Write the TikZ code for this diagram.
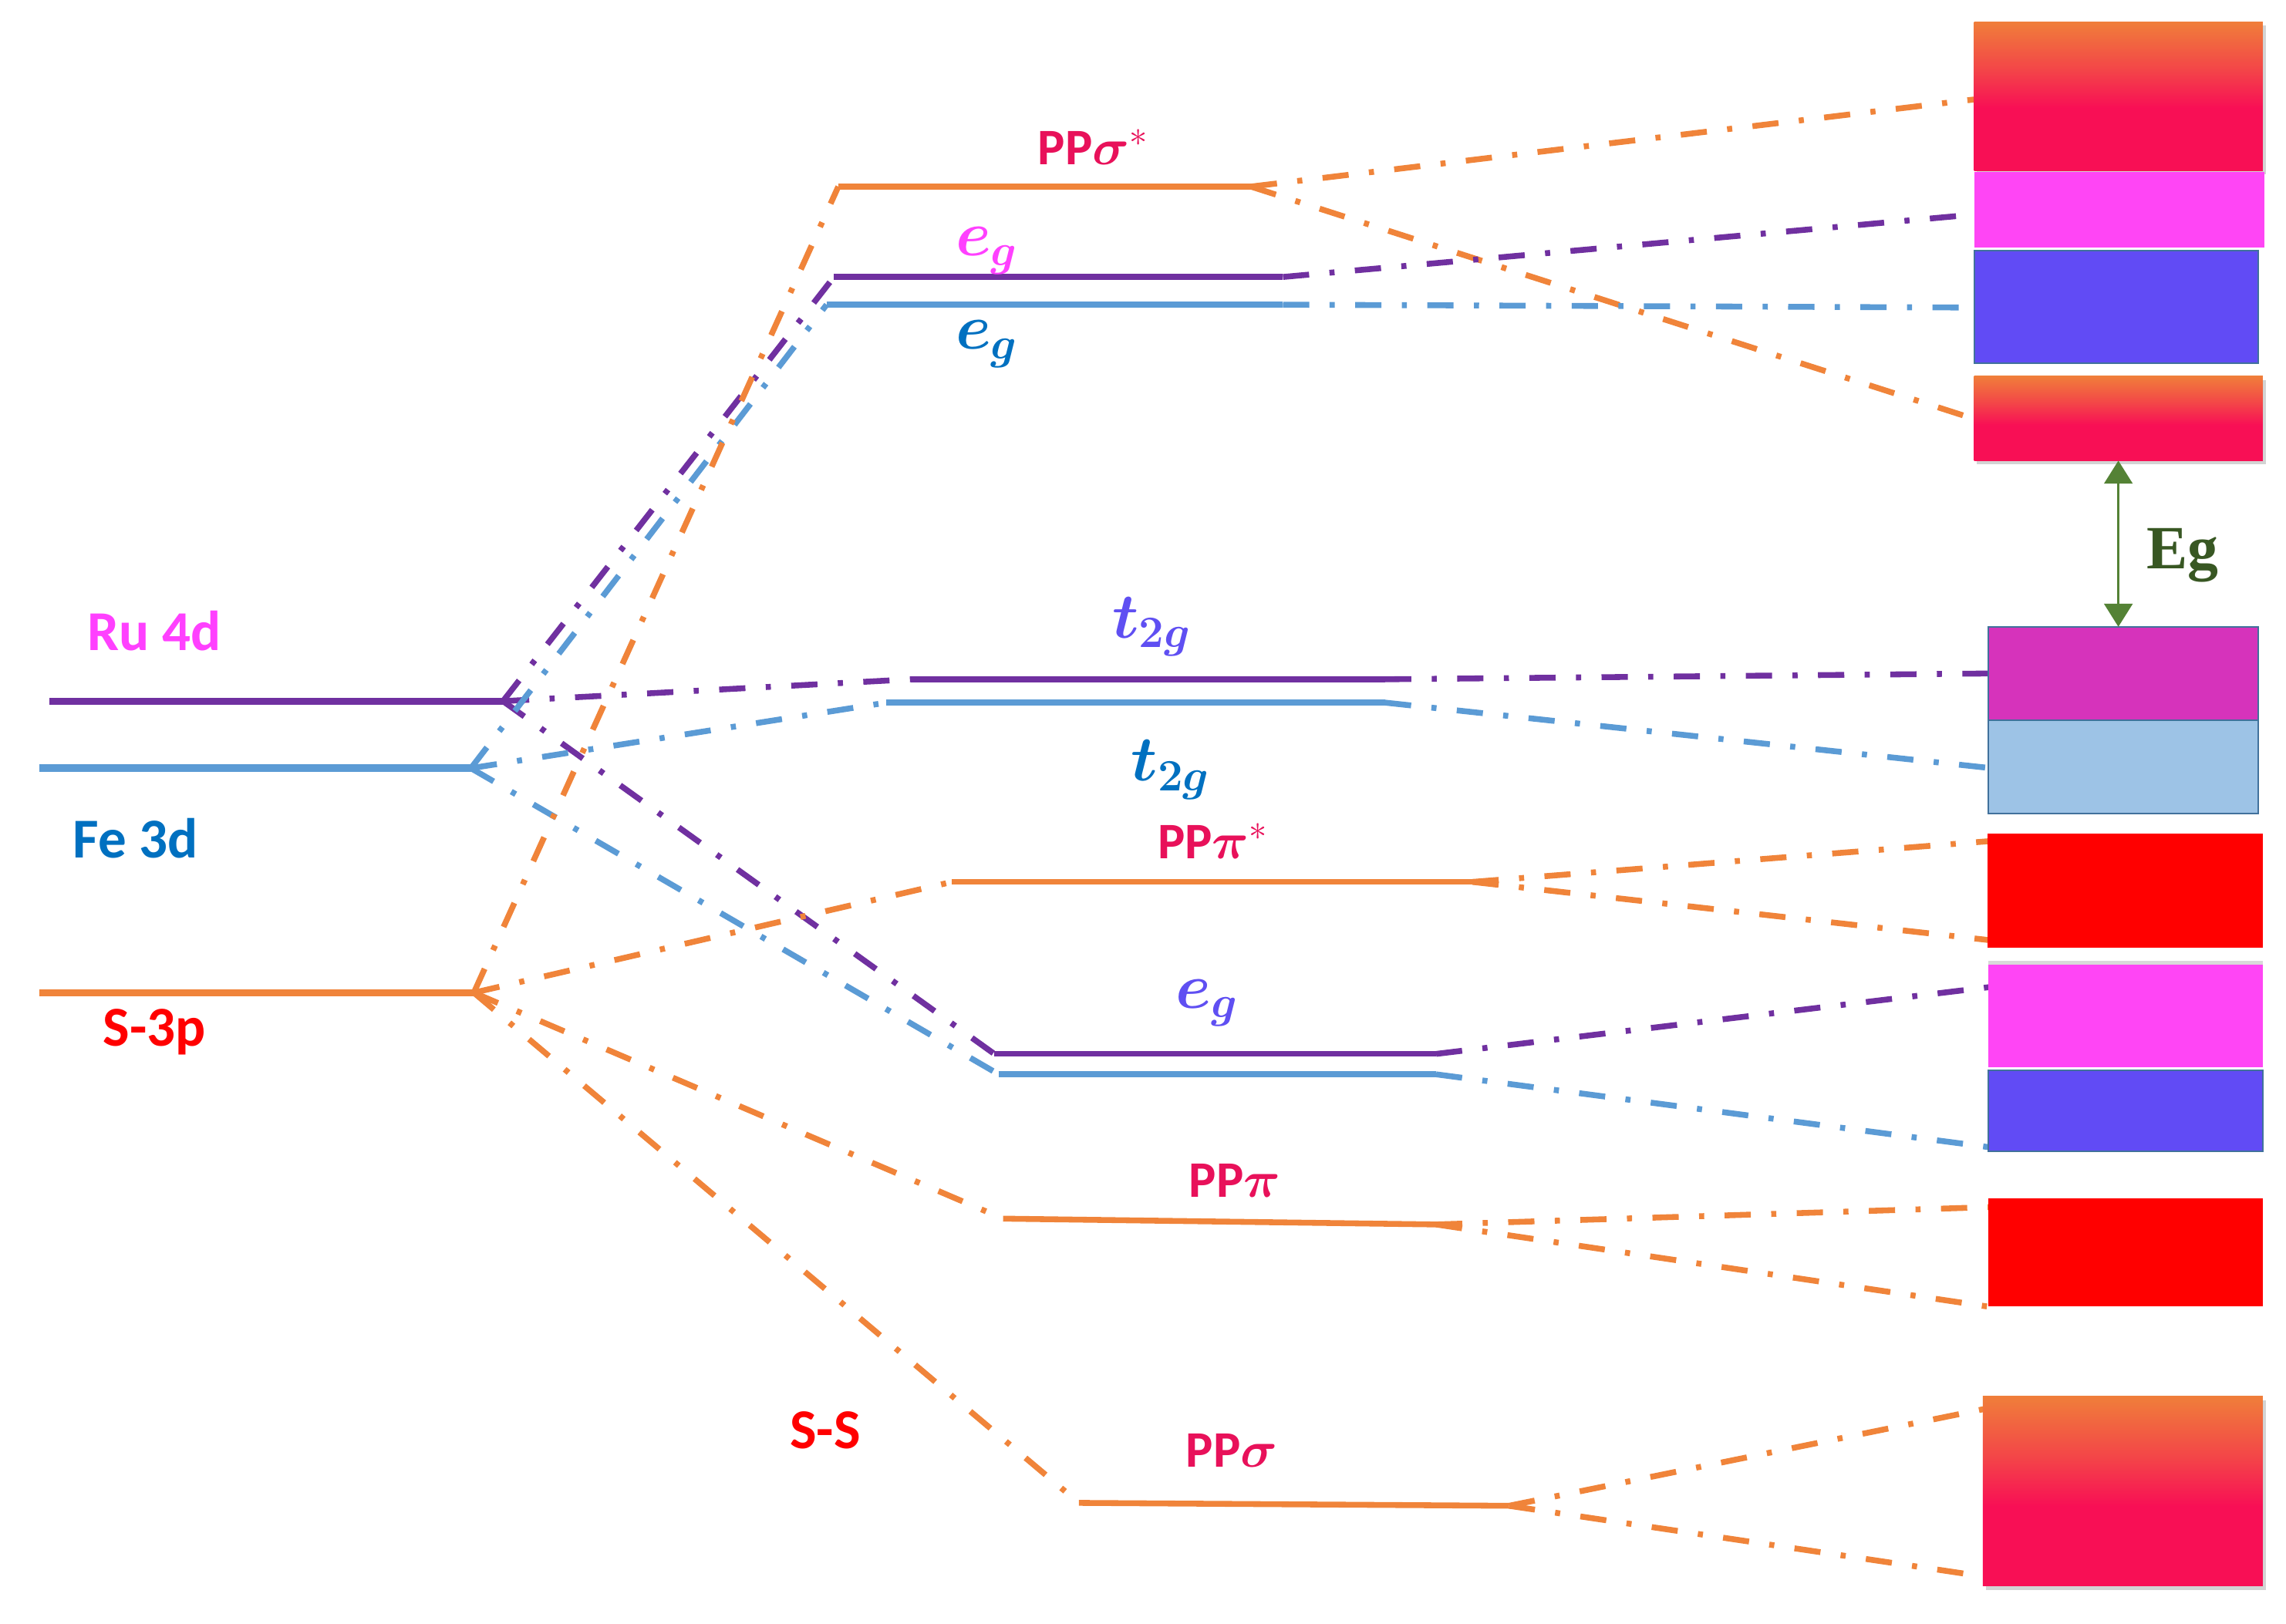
\RequirePackage{fix-cm}
\documentclass[tikz,border=0pt]{standalone}
\usepackage{fontspec}
\usepackage{bm}
\usetikzlibrary{arrows.meta,fit,shadows}
\newfontfamily\carl{Carlito}
\newfontfamily\lserif{Liberation Serif}
\definecolor{purp}{HTML}{7030A0}
\definecolor{lblue}{HTML}{5B9BD5}
\definecolor{orng}{HTML}{F0843A}
\definecolor{magl}{HTML}{FF40FF}
\definecolor{dblue}{HTML}{0070C0}
\definecolor{sred}{HTML}{FF0000}
\definecolor{crim}{HTML}{E8115A}
\definecolor{viol}{HTML}{5F4FF2}
\definecolor{gradtop}{HTML}{F07E3A}
\definecolor{gradmid}{HTML}{F34548}
\definecolor{gradbot}{HTML}{F80F55}
\definecolor{magb}{HTML}{FF45F5}
\definecolor{vblue}{HTML}{614BF5}
\definecolor{pmag}{HTML}{D633BB}
\definecolor{pblue}{HTML}{9DC3E6}
\definecolor{bord}{HTML}{41719C}
\definecolor{arrgreen}{HTML}{548235}
\definecolor{eggreen}{HTML}{385723}
\pgfdeclareverticalshading{bandgrad}{100bp}{color(0bp)=(gradbot); color(25bp)=(gradbot); color(46bp)=(gradbot); color(59bp)=(gradmid); color(75bp)=(gradtop); color(100bp)=(gradtop)}
\begin{document}
\begin{tikzpicture}[x=0.2mm,y=-0.2mm,
  lvlL/.style={line width=1mm},
  lvl/.style={line width=0.8mm},
  conn/.style={line width=0.8mm, dash pattern=on 3.6mm off 2.8mm on 0.7mm off 2.8mm},
  lab/.style={inner sep=0pt, font=\carl\bfseries\fontsize{22}{26}\selectfont},
  pplab/.style={inner sep=0pt, font=\carl\bfseries\fontsize{20}{24}\selectfont, text=crim},
  mlab/.style={inner sep=0pt, font=\fontsize{25}{30}\selectfont},
  band/.style={inner sep=0pt, outer sep=0pt, draw=none},
  gradband/.style={band, shading=bandgrad,
     drop shadow={shadow xshift=1.2pt, shadow yshift=-1.5pt, opacity=0.35}},
  bordband/.style={band, draw=bord, line width=0.6pt},
]
\useasboundingbox (0,0) rectangle (1568,1114);

% ---------- level end coordinates ----------
\coordinate (ruL) at (34,481);   \coordinate (ruR) at (345,481);
\coordinate (feL) at (27,527);   \coordinate (feR) at (323,527);
\coordinate (sL)  at (27,681);   \coordinate (sR)  at (325,681);

\coordinate (psL) at (575,128);  \coordinate (psR) at (858,128);
\coordinate (egaL) at (572,190); \coordinate (egaR) at (880,190);
\coordinate (egbL) at (567,209); \coordinate (egbR) at (880,209);
\coordinate (taL) at (625,466);  \coordinate (taR) at (950,466);
\coordinate (tbL) at (608,482);  \coordinate (tbR) at (950,482);
\coordinate (ppsL) at (653,605); \coordinate (ppsR) at (1010,605);
\coordinate (egcL) at (682,723); \coordinate (egcR) at (985,723);
\coordinate (egdL) at (685,737); \coordinate (egdR) at (985,737);
\coordinate (ppL) at (688,836);  \coordinate (ppR) at (985,840);
\coordinate (pgL) at (740,1031); \coordinate (pgR) at (1035,1033);

% band entry points
\coordinate (r1) at (1356,68);   \coordinate (r2) at (1356,288);
\coordinate (r3) at (1356,147);  \coordinate (r4) at (1356,211);
\coordinate (r5) at (1366,462);  \coordinate (r6) at (1366,527);
\coordinate (r7) at (1365,577);  \coordinate (r8) at (1365,645);
\coordinate (r9) at (1366,677);  \coordinate (r10) at (1372,788);
\coordinate (r11) at (1368,828); \coordinate (r12) at (1368,897);
\coordinate (r13) at (1364,966); \coordinate (r14) at (1364,1082);

% ---------- connectors left ----------
\draw[conn, purp] (ruR) -- (egaL);
\draw[conn, purp] (ruR) -- (taL);
\draw[conn, purp] (ruR) -- (egcL);
\draw[conn, lblue] (feR) -- (egbL);
\draw[conn, lblue] (feR) -- (tbL);
\draw[conn, lblue] (feR) -- (egdL);
\draw[conn, orng] (sR) -- (psL);
\draw[conn, orng] (sR) -- (ppsL);
\draw[conn, orng] (sR) -- (ppL);
\draw[conn, orng] (sR) -- (pgL);

% ---------- connectors right ----------
\draw[conn, orng] (psR) -- (r1);
\draw[conn, orng] (psR) -- (r2);
\draw[conn, purp] (egaR) -- (r3);
\draw[conn, lblue] (egbR) -- (r4);
\draw[conn, purp] (taR) -- (r5);
\draw[conn, lblue] (tbR) -- (r6);
\draw[conn, orng] (ppsR) -- (r7);
\draw[conn, orng] (ppsR) -- (r8);
\draw[conn, purp] (egcR) -- (r9);
\draw[conn, lblue] (egdR) -- (r10);
\draw[conn, orng] (ppR) -- (r11);
\draw[conn, orng] (ppR) -- (r12);
\draw[conn, orng] (pgR) -- (r13);
\draw[conn, orng] (pgR) -- (r14);

% ---------- levels ----------
\draw[lvlL, purp] (ruL) -- (ruR);
\draw[lvlL, lblue] (feL) -- (feR);
\draw[lvlL, orng] (sL) -- (sR);
\draw[lvl, orng] (psL) -- (psR);
\draw[lvl, purp] (egaL) -- (egaR);
\draw[lvl, lblue] (egbL) -- (egbR);
\draw[lvl, purp] (taL) -- (taR);
\draw[lvl, lblue] (tbL) -- (tbR);
\draw[lvl, orng] (ppsL) -- (ppsR);
\draw[lvl, purp] (egcL) -- (egcR);
\draw[lvl, lblue] (egdL) -- (egdR);
\draw[lvl, orng] (ppL) -- (ppR);
\draw[lvl, orng] (pgL) -- (pgR);

% ---------- bands ----------
\node[gradband, fit={(1354,15) (1552,117)}] (b1) {};
\node[band, fill=magb, fit={(1354,118) (1553,170)}] (b2) {};
\node[bordband, fill=vblue, fit={(1354,172) (1549,249)}] (b3) {};
\node[gradband, fit={(1354,258) (1552,316)}] (b4) {};
\node[bordband, fill=pmag, fit={(1364,430) (1549,494)}] (b5) {};
\node[bordband, fill=pblue, fit={(1364,494) (1549,558)}] (b6) {};
\node[band, fill=sred, fit={(1363,572) (1552,650)}] (b7) {};
\node[band, fill=magb, drop shadow={shadow xshift=0pt, shadow yshift=1.5pt, opacity=0.3}, fit={(1364,662) (1552,732)}] (b8) {};
\node[bordband, fill=vblue, fit={(1364,734) (1552,790)}] (b9) {};
\node[band, fill=sred, fit={(1364,822) (1552,896)}] (b10) {};
\node[gradband, fit={(1360,958) (1552,1088)}] (b11) {};

% band gap arrow
\draw[arrgreen, line width=1.1pt,
  {Triangle[width=11pt,length=9pt]}-{Triangle[width=11pt,length=9pt]}]
  (b4.south) -- (b4.south |- b5.north);
\node[inner sep=0pt, text=eggreen, font=\lserif\bfseries\fontsize{24}{28}\selectfont] (eg) at (1497,381) {Eg};

% ---------- labels ----------
\node[lab, text=magl] (tRu) at (106,433) {Ru 4d};
\node[lab, text=dblue] (tFe) at (93,575) {Fe 3d};
\node[lab, text=sred] (tS) at (106,708) {S-3p};
\node[lab, text=sred] (tSS) at (566,981) {S-S};

\node[pplab] (tpss) at (750,101) {PP$\bm{\sigma}^{*}$};
\node[pplab] (tpps) at (832,577) {PP$\bm{\pi}^{*}$};
\node[pplab] (tpp) at (847,810) {PP$\bm{\pi}$};
\node[pplab] (tpg) at (845,995) {PP$\bm{\sigma}$};

\node[mlab, text=magl] (teg1) at (677,172) {$\bm{e_g}$};
\node[mlab, text=dblue] (teg2) at (677,236) {$\bm{e_g}$};
\node[mlab, text=viol] (tt1) at (790,430) {$\bm{t_{2g}}$};
\node[mlab, text=dblue] (tt2) at (803,528) {$\bm{t_{2g}}$};
\node[mlab, text=viol] (teg3) at (828,688) {$\bm{e_g}$};
\end{tikzpicture}
\end{document}
